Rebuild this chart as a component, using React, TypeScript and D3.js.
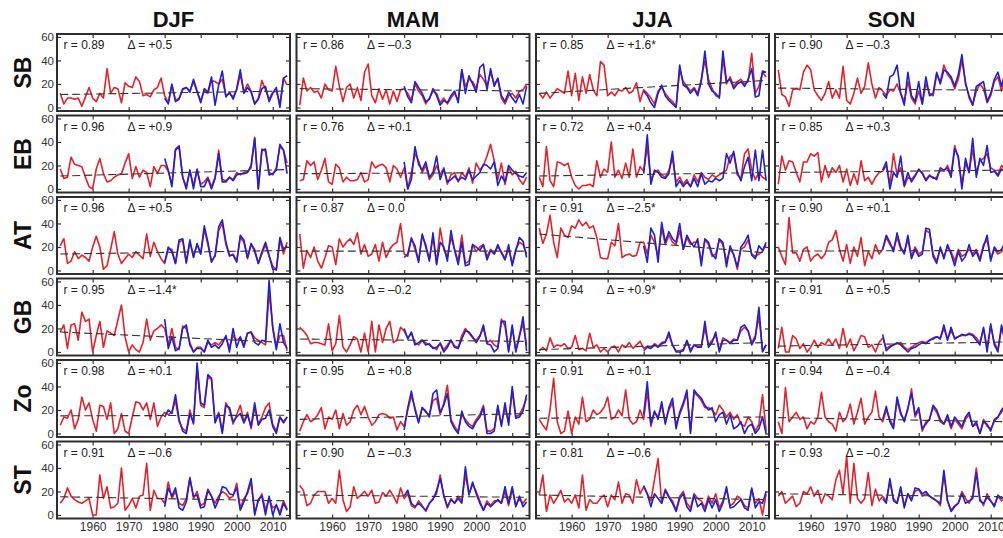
import { useEffect, useRef } from "react";
import * as d3 from "d3";

const seasons = ["DJF", "MAM", "JJA", "SON"];
const regions = ["SB", "EB", "AT", "GB", "Zo", "ST"];
const yearTicks = [1960, 1970, 1980, 1990, 2000, 2010];
const valueTicks = [0, 20, 40, 60];
const redYears = d3.range(1951, 2015);
const blueYears = d3.range(1980, 2015);

// panel annotations, rows = regions, columns = seasons
const rLabels = [
  ["0.89", "0.86", "0.85", "0.90"],
  ["0.96", "0.76", "0.72", "0.85"],
  ["0.96", "0.87", "0.91", "0.90"],
  ["0.95", "0.93", "0.94", "0.91"],
  ["0.98", "0.95", "0.91", "0.94"],
  ["0.91", "0.90", "0.81", "0.93"],
];
const deltaLabels = [
  ["+0.5", "\u20130.3", "+1.6*", "\u20130.3"],
  ["+0.9", "+0.1", "+0.4", "+0.3"],
  ["+0.5", "0.0", "\u20132.5*", "+0.1"],
  ["\u20131.4*", "\u20130.2", "+0.9*", "+0.5"],
  ["+0.1", "+0.8", "+0.1", "\u20130.4"],
  ["\u20130.6", "\u20130.3", "\u20130.6", "\u20130.2"],
];
// linear trend values at 1951 and 2014
const trendStart = [
  [11, 16, 12, 16.5],
  [11, 13, 11, 14],
  [14, 16.5, 31, 16.5],
  [17, 11, 2, 5],
  [15, 12, 13, 13.5],
  [15.5, 17, 17, 18],
];
const trendEnd = [
  [14, 14, 23, 14.5],
  [16.5, 14, 14, 16],
  [17, 16.5, 15, 17],
  [8, 9, 8, 8.5],
  [15.5, 17, 14, 10],
  [12, 15, 13, 15.5],
];

// red: 1951-2014, blue: 1980-2014
const sbDjfRed = [12, 3, 8, 8, 7, 8, 1, 9, 17, 8, 5, 12, 8, 33, 12, 17, 16, 4, 21, 18, 17, 26, 22, 10, 11, 9, 15, 17, 25, 10, 4, 19, 6, 8, 15, 17, 14, 22, 13, 6, 14, 12, 23, 22, 20, 24, 10, 12, 9, 15, 28, 13, 20, 14, 3, 8, 23, 15, 7, 13, 14, 3, 25, 19];
const sbDjfBlue = [8, 3, 20, 5, 7, 16, 17, 13, 24, 14, 4, 16, 13, 26, 2, 19, 31, 9, 13, 7, 16, 32, 12, 17, 13, 3, 7, 16, 18, 5, 12, 17, 0, 25, 27];
const sbMamRed = [2, 25, 14, 17, 13, 14, 8, 20, 15, 14, 35, 18, 5, 17, 20, 8, 17, 6, 30, 37, 10, 4, 16, 7, 15, 3, 14, 5, 15, 16, 12, 6, 20, 14, 10, 3, 8, 14, 12, 4, 8, 3, 8, 12, 6, 32, 18, 24, 22, 16, 28, 24, 18, 30, 20, 24, 8, 3, 10, 12, 8, 14, 15, 20];
const sbMamBlue = [18, 9, 4, 22, 17, 12, 5, 7, 16, 10, 2, 6, 4, 10, 14, 4, 32, 12, 27, 20, 13, 34, 37, 15, 33, 18, 25, 10, 5, 13, 8, 4, 11, 3, 18];
const sbJjaRed = [12, 8, 13, 8, 12, 16, 14, 12, 31, 10, 29, 6, 26, 12, 28, 15, 10, 39, 36, 10, 13, 10, 15, 14, 17, 12, 14, 21, 5, 15, 12, 8, 3, 14, 17, 12, 8, 5, 1, 32, 22, 18, 14, 17, 12, 24, 40, 24, 16, 10, 9, 42, 20, 26, 18, 22, 24, 20, 22, 46, 12, 18, 30, 26];
const sbJjaBlue = [14, 10, 4, 0, 12, 19, 10, 6, 3, 0, 36, 19, 17, 12, 16, 10, 22, 48, 20, 14, 12, 8, 48, 22, 24, 16, 20, 22, 18, 24, 33, 9, 10, 31, 30];
const sbSonRed = [32, 11, 9, 1, 15, 16, 15, 30, 36, 32, 15, 10, 6, 12, 22, 8, 15, 8, 35, 6, 3, 12, 25, 12, 18, 38, 20, 8, 17, 14, 10, 15, 14, 20, 12, 5, 22, 8, 3, 14, 3, 20, 12, 10, 28, 22, 36, 28, 24, 16, 24, 40, 22, 8, 2, 14, 20, 16, 4, 10, 22, 26, 14, 24];
const sbSonBlue = [12, 8, 26, 28, 36, 12, 2, 30, 10, 5, 22, 3, 26, 10, 12, 30, 20, 32, 30, 26, 18, 28, 45, 20, 10, 2, 18, 20, 22, 5, 12, 24, 30, 18, 30];

const ebDjfRed = [17, 9, 10, 27, 21, 20, 19, 10, 2, 0, 17, 26, 13, 6, 7, 10, 12, 13, 22, 30, 9, 19, 10, 16, 14, 2, 19, 13, 20, 20, 15, 4, 34, 37, 10, 2, 16, 3, 16, 4, 6, 10, 2, 10, 33, 8, 7, 10, 8, 14, 12, 14, 15, 18, 44, 0, 34, 32, 14, 12, 18, 36, 33, 22];
const ebDjfBlue = [26, 16, 2, 33, 36, 10, 0, 16, 0, 17, 2, 2, 9, 0, 9, 30, 6, 6, 10, 7, 12, 13, 13, 14, 20, 43, 0, 33, 34, 12, 13, 16, 38, 33, 13];
const ebMamRed = [7, 8, 24, 20, 23, 8, 16, 26, 6, 4, 21, 18, 6, 10, 7, 7, 8, 14, 6, 8, 23, 18, 20, 21, 18, 6, 20, 17, 10, 18, 0, 14, 30, 24, 14, 20, 8, 12, 20, 12, 18, 4, 12, 14, 6, 14, 10, 18, 5, 22, 16, 20, 28, 38, 24, 8, 22, 4, 18, 12, 15, 8, 4, 10];
const ebMamBlue = [23, 0, 8, 36, 21, 16, 23, 10, 14, 28, 8, 17, 6, 8, 11, 7, 10, 8, 16, 8, 11, 14, 21, 20, 17, 23, 3, 11, 6, 20, 16, 13, 11, 10, 14];
const ebJjaRed = [10, 2, 36, 7, 2, 23, 22, 20, 22, 10, 3, 0, 3, 3, 4, 2, 24, 10, 17, 14, 40, 10, 16, 9, 22, 10, 34, 10, 19, 15, 36, 8, 14, 16, 12, 10, 16, 26, 6, 10, 4, 8, 2, 12, 6, 14, 10, 8, 12, 10, 12, 14, 16, 28, 30, 12, 9, 30, 34, 16, 8, 14, 10, 8];
const ebJjaBlue = [13, 46, 4, 16, 14, 10, 9, 13, 32, 2, 7, 2, 6, 2, 9, 2, 13, 4, 7, 6, 9, 7, 9, 30, 22, 32, 14, 7, 19, 27, 7, 33, 7, 33, 7];
const ebSonRed = [4, 28, 16, 24, 23, 14, 6, 23, 23, 30, 28, 31, 6, 20, 10, 18, 14, 20, 6, 17, 3, 13, 4, 24, 7, 10, 4, 10, 14, 15, 20, 4, 30, 12, 18, 2, 10, 8, 12, 16, 14, 8, 12, 9, 10, 16, 15, 20, 12, 37, 26, 4, 22, 14, 34, 14, 24, 26, 30, 18, 16, 12, 20, 16];
const ebSonBlue = [16, 23, 0, 14, 10, 28, 3, 14, 6, 11, 17, 13, 7, 11, 10, 8, 18, 16, 18, 10, 34, 28, 0, 26, 14, 43, 10, 26, 20, 37, 14, 15, 11, 17, 14];

const atDjfRed = [21, 27, 6, 8, 16, 10, 13, 11, 8, 20, 29, 20, 1, 4, 18, 33, 14, 6, 10, 14, 11, 16, 13, 10, 31, 12, 24, 16, 10, 6, 18, 18, 6, 24, 26, 6, 24, 12, 22, 14, 35, 22, 8, 12, 34, 40, 22, 12, 14, 8, 28, 24, 10, 22, 18, 6, 14, 22, 12, 4, 0, 26, 14, 24];
const atDjfBlue = [7, 20, 16, 6, 26, 27, 7, 26, 11, 23, 14, 38, 24, 7, 13, 37, 43, 24, 13, 13, 7, 30, 26, 11, 23, 16, 6, 16, 24, 13, 1, 1, 28, 18, 21];
const atMamRed = [31, 2, 17, 11, 20, 8, 2, 11, 21, 20, 5, 27, 20, 24, 27, 22, 32, 14, 22, 12, 14, 22, 8, 24, 11, 18, 22, 24, 40, 14, 12, 28, 18, 8, 30, 22, 10, 28, 6, 36, 18, 12, 28, 18, 8, 30, 6, 8, 22, 16, 20, 22, 12, 18, 14, 20, 16, 10, 18, 6, 18, 24, 22, 14];
const atMamBlue = [11, 14, 27, 21, 7, 31, 20, 8, 32, 5, 24, 20, 8, 34, 17, 5, 24, 4, 5, 22, 20, 17, 22, 9, 17, 14, 22, 15, 9, 22, 4, 17, 28, 25, 11];
const atJjaRed = [36, 23, 31, 47, 24, 11, 36, 30, 28, 38, 36, 43, 38, 41, 36, 38, 28, 11, 10, 10, 24, 21, 40, 11, 13, 14, 12, 13, 24, 24, 14, 30, 24, 12, 36, 22, 30, 24, 22, 34, 18, 28, 22, 24, 24, 8, 26, 22, 12, 14, 26, 22, 8, 18, 14, 1, 18, 20, 26, 14, 12, 14, 16, 22];
const atJjaBlue = [21, 7, 36, 30, 7, 41, 24, 33, 27, 24, 40, 18, 30, 24, 20, 27, 4, 27, 24, 14, 10, 27, 24, 3, 21, 13, 3, 20, 24, 30, 13, 10, 21, 17, 24];
const atSonRed = [20, 12, 5, 45, 15, 15, 8, 18, 20, 8, 12, 14, 10, 14, 24, 26, 34, 18, 8, 22, 6, 20, 12, 28, 4, 16, 10, 22, 14, 18, 28, 22, 18, 28, 18, 16, 26, 12, 20, 14, 16, 34, 32, 14, 8, 18, 12, 20, 16, 8, 18, 12, 14, 18, 14, 18, 10, 22, 26, 10, 18, 14, 16, 20];
const atSonBlue = [18, 30, 24, 16, 32, 20, 14, 30, 10, 18, 12, 14, 36, 35, 12, 6, 20, 10, 22, 14, 4, 16, 8, 12, 22, 12, 16, 8, 20, 30, 8, 20, 16, 18, 24];

const gbDjfRed = [17, 23, 3, 23, 24, 10, 34, 26, 28, 0, 14, 26, 4, 18, 16, 14, 27, 40, 13, 0, 6, 2, 0, 8, 28, 10, 18, 20, 23, 20, 6, 20, 4, 2, 22, 20, 8, 0, 4, 4, 0, 8, 6, 8, 6, 10, 12, 4, 14, 10, 12, 6, 16, 17, 12, 10, 8, 6, 51, 22, 4, 14, 14, 1];
const gbDjfBlue = [28, 3, 13, 1, 3, 20, 23, 6, 0, 3, 3, 0, 10, 4, 6, 3, 7, 14, 0, 20, 4, 13, 4, 16, 17, 8, 6, 10, 9, 61, 20, 2, 24, 8, 3];
const gbMamRed = [21, 18, 14, 7, 8, 8, 7, 6, 24, 1, 7, 31, 4, 0, 6, 13, 11, 0, 16, 0, 26, 0, 23, 8, 20, 26, 8, 10, 21, 18, 12, 16, 8, 6, 10, 8, 6, 4, 2, 8, 2, 6, 10, 5, 4, 14, 20, 16, 12, 10, 14, 20, 8, 10, 6, 4, 28, 22, 1, 20, 2, 14, 24, 6];
const gbMamBlue = [20, 11, 17, 6, 8, 10, 6, 7, 3, 4, 7, 0, 4, 10, 4, 3, 11, 18, 17, 13, 8, 13, 23, 7, 6, 0, 3, 26, 26, 0, 23, 0, 13, 30, 1];
const gbJjaRed = [1, 4, 1, 12, 4, 6, 5, 7, 3, 4, 14, 2, 3, 1, 16, 4, 6, 0, 3, 0, 4, 5, 0, 6, 4, 8, 3, 6, 9, 3, 5, 4, 7, 5, 8, 9, 14, 6, 1, 1, 2, 9, 2, 6, 5, 5, 20, 6, 10, 14, 2, 12, 10, 8, 11, 10, 18, 21, 18, 8, 14, 30, 1, 6];
const gbJjaBlue = [1, 4, 3, 6, 4, 7, 8, 17, 6, 0, 0, 1, 10, 0, 6, 4, 4, 26, 4, 8, 17, 0, 10, 10, 7, 10, 10, 21, 23, 18, 6, 12, 38, 0, 6];
const gbSonRed = [3, 21, 0, 0, 14, 11, 3, 7, 0, 4, 10, 4, 8, 6, 11, 6, 11, 3, 20, 4, 11, 1, 7, 14, 13, 4, 6, 0, 8, 12, 3, 5, 6, 7, 8, 4, 2, 4, 6, 8, 9, 8, 10, 12, 13, 12, 20, 11, 18, 12, 13, 14, 14, 16, 15, 12, 8, 20, 4, 22, 8, 2, 20, 10];
const gbSonBlue = [15, 1, 4, 6, 8, 6, 3, 0, 3, 4, 6, 8, 7, 10, 11, 13, 11, 23, 10, 21, 11, 13, 15, 14, 15, 14, 10, 6, 21, 0, 24, 6, 0, 23, 10];

const zoDjfRed = [7, 14, 13, 20, 4, 12, 31, 20, 26, 12, 2, 24, 23, 12, 26, 0, 4, 17, 2, 0, 14, 27, 26, 20, 26, 12, 26, 6, 14, 18, 16, 18, 28, 10, 4, 2, 20, 8, 55, 24, 22, 48, 46, 10, 18, 2, 26, 20, 8, 16, 24, 10, 18, 4, 22, 8, 14, 22, 26, 8, 2, 14, 10, 14];
const zoDjfBlue = [14, 20, 17, 33, 12, 2, 0, 17, 9, 60, 26, 24, 50, 47, 9, 17, 0, 24, 22, 10, 14, 17, 9, 16, 6, 26, 7, 12, 13, 20, 6, 0, 14, 9, 14];
const zoMamRed = [2, 10, 16, 10, 12, 16, 22, 4, 14, 12, 20, 4, 17, 7, 10, 20, 24, 16, 23, 14, 7, 10, 16, 17, 16, 13, 14, 3, 10, 6, 20, 32, 22, 10, 22, 18, 16, 28, 30, 16, 26, 41, 12, 6, 2, 16, 12, 8, 6, 12, 16, 24, 2, 2, 4, 22, 8, 22, 10, 36, 14, 16, 22, 30];
const zoMamBlue = [3, 22, 36, 20, 9, 22, 19, 14, 34, 37, 18, 24, 34, 10, 4, 0, 19, 10, 6, 4, 10, 14, 22, 0, 0, 2, 24, 6, 26, 7, 40, 13, 14, 19, 33];
const zoJjaRed = [12, 7, 3, 20, 47, 10, 0, 2, 19, 0, 14, 8, 31, 10, 12, 20, 16, 18, 22, 31, 12, 14, 20, 15, 37, 12, 8, 10, 20, 12, 36, 6, 18, 14, 24, 10, 20, 26, 8, 16, 24, 34, 2, 35, 32, 28, 22, 22, 20, 16, 24, 20, 14, 18, 12, 16, 8, 6, 14, 10, 2, 8, 33, 2];
const zoJjaBlue = [16, 44, 8, 19, 12, 27, 8, 22, 30, 4, 18, 26, 37, 0, 37, 33, 30, 24, 20, 22, 10, 16, 18, 8, 16, 4, 6, 10, 0, 6, 8, 0, 4, 14, 0];
const zoSonRed = [10, 0, 39, 10, 14, 18, 12, 14, 4, 10, 8, 14, 35, 14, 10, 8, 2, 18, 10, 14, 25, 8, 18, 30, 8, 14, 18, 36, 14, 10, 20, 12, 6, 28, 16, 12, 20, 38, 14, 20, 2, 10, 12, 22, 18, 10, 8, 14, 4, 12, 8, 4, 12, 16, 6, 8, 0, 12, 6, 4, 10, 14, 18, 22];
const zoSonBlue = [12, 23, 10, 4, 31, 18, 10, 22, 34, 16, 22, 4, 8, 12, 24, 20, 12, 8, 16, 6, 14, 10, 6, 14, 18, 6, 10, 0, 10, 8, 2, 12, 14, 20, 24];

const stDjfRed = [10, 14, 23, 16, 13, 11, 10, 12, 14, 0, 0, 34, 14, 24, 6, 7, 10, 40, 4, 8, 14, 6, 16, 17, 44, 4, 21, 14, 14, 10, 28, 14, 20, 10, 8, 14, 32, 14, 20, 8, 10, 22, 16, 10, 16, 20, 18, 14, 16, 27, 6, 14, 18, 28, 2, 12, 18, 4, 14, 6, 8, 2, 12, 5];
const stDjfBlue = [7, 23, 16, 23, 6, 4, 11, 31, 16, 17, 6, 7, 21, 16, 6, 13, 24, 23, 18, 17, 23, 4, 11, 20, 31, 0, 13, 16, 0, 16, 0, 9, 0, 10, 4];
const stMamRed = [25, 21, 8, 10, 17, 20, 20, 20, 10, 14, 10, 38, 13, 3, 7, 24, 14, 17, 20, 16, 21, 10, 11, 19, 16, 21, 16, 10, 23, 14, 18, 8, 6, 12, 8, 3, 10, 14, 18, 34, 16, 6, 14, 10, 16, 12, 34, 18, 26, 20, 12, 4, 12, 8, 12, 12, 10, 20, 8, 22, 8, 14, 10, 14];
const stMamBlue = [16, 21, 10, 7, 10, 7, 4, 10, 13, 21, 31, 17, 7, 13, 10, 14, 10, 41, 17, 28, 18, 10, 4, 10, 7, 10, 13, 10, 24, 10, 24, 7, 16, 7, 11];
const stJjaRed = [17, 34, 3, 17, 10, 15, 21, 11, 14, 10, 17, 6, 34, 4, 13, 10, 10, 14, 17, 7, 17, 13, 28, 10, 18, 17, 10, 30, 18, 24, 18, 12, 30, 48, 10, 22, 16, 12, 4, 16, 20, 10, 6, 18, 14, 12, 6, 16, 10, 18, 6, 12, 22, 8, 10, 16, 14, 8, 6, 22, 10, 14, 0, 18];
const stJjaBlue = [25, 18, 7, 18, 14, 10, 21, 15, 10, 3, 14, 18, 7, 3, 17, 7, 10, 3, 13, 6, 13, 3, 10, 24, 6, 7, 10, 13, 6, 4, 23, 6, 11, 10, 20];
const stSonRed = [16, 20, 10, 13, 16, 7, 10, 20, 18, 24, 16, 21, 10, 18, 16, 13, 30, 38, 18, 50, 10, 44, 14, 10, 14, 36, 8, 22, 12, 16, 12, 28, 14, 10, 22, 8, 18, 14, 20, 22, 16, 18, 16, 14, 12, 8, 34, 12, 4, 8, 10, 20, 14, 10, 16, 40, 14, 8, 18, 12, 8, 16, 12, 14];
const stSonBlue = [14, 10, 31, 12, 10, 24, 6, 18, 12, 23, 22, 18, 20, 16, 14, 12, 10, 38, 12, 3, 7, 10, 18, 10, 12, 14, 36, 12, 10, 15, 12, 7, 17, 14, 16];

const redSeries = [
  [sbDjfRed, sbMamRed, sbJjaRed, sbSonRed],
  [ebDjfRed, ebMamRed, ebJjaRed, ebSonRed],
  [atDjfRed, atMamRed, atJjaRed, atSonRed],
  [gbDjfRed, gbMamRed, gbJjaRed, gbSonRed],
  [zoDjfRed, zoMamRed, zoJjaRed, zoSonRed],
  [stDjfRed, stMamRed, stJjaRed, stSonRed],
];
const blueSeries = [
  [sbDjfBlue, sbMamBlue, sbJjaBlue, sbSonBlue],
  [ebDjfBlue, ebMamBlue, ebJjaBlue, ebSonBlue],
  [atDjfBlue, atMamBlue, atJjaBlue, atSonBlue],
  [gbDjfBlue, gbMamBlue, gbJjaBlue, gbSonBlue],
  [zoDjfBlue, zoMamBlue, zoJjaBlue, zoSonBlue],
  [stDjfBlue, stMamBlue, stJjaBlue, stSonBlue],
];

export default function App() {
  const ref = useRef<SVGSVGElement>(null);

  useEffect(() => {
    const svg = d3.select(ref.current);
    svg.selectAll("*").remove();
    const font = "'Liberation Sans', Arial, Helvetica, sans-serif";

    const panelW = 233;
    const panelH = 77;
    const colLeft = [57, 296.5, 536, 775];
    const rowTop = [34, 115.5, 197, 278.5, 360, 441.5];

    const x = d3.scaleLinear().domain([1950.1, 2014.8]).range([0, panelW]);
    const y = d3.scaleLinear().domain([-3, 62.5]).range([panelH, 0]);

    // column titles
    seasons.forEach((s, c) => {
      svg.append("text")
        .text(s)
        .attr("x", colLeft[c] + panelW / 2)
        .attr("y", 27)
        .attr("text-anchor", "middle")
        .attr("font-family", font)
        .attr("font-weight", "bold")
        .attr("font-size", 22)
        .attr("fill", "#111");
    });

    // row labels
    regions.forEach((name, r) => {
      svg.append("text")
        .text(name)
        .attr("transform", `translate(31, ${rowTop[r] + panelH / 2}) rotate(-90)`)
        .attr("text-anchor", "middle")
        .attr("font-family", font)
        .attr("font-weight", "bold")
        .attr("font-size", 23)
        .attr("fill", "#111");
    });

    const line = d3.line<[number, number]>()
      .x(d => x(d[0]))
      .y(d => y(d[1]));

    regions.forEach((_, r) => {
      seasons.forEach((_, c) => {
        const g = svg.append("g")
          .attr("transform", `translate(${colLeft[c]}, ${rowTop[r]})`);

        // ticks pointing inward on all four sides
        const axes = [
          { axis: d3.axisTop(x).tickValues(yearTicks).tickSize(-4).tickFormat(() => ""), t: "translate(0,0)" },
          {
            axis: d3.axisBottom(x).tickValues(yearTicks).tickSize(-4).tickPadding(4)
              .tickFormat(r === regions.length - 1 ? d3.format("d") : () => ""),
            t: `translate(0,${panelH})`,
          },
          {
            axis: d3.axisLeft(y).tickValues(valueTicks).tickSize(-4).tickPadding(3)
              .tickFormat(c === 0 ? d3.format("d") : () => ""),
            t: "translate(0,0)",
          },
          { axis: d3.axisRight(y).tickValues(valueTicks).tickSize(-4).tickFormat(() => ""), t: `translate(${panelW},0)` },
        ];
        axes.forEach((a, k) => {
          const ag = g.append("g").attr("transform", a.t).call(a.axis as any);
          ag.select(".domain").remove();
          ag.attr("color", "#333");
          ag.selectAll("line").attr("stroke-width", 1.2);
          ag.selectAll("text")
            .attr("font-family", font)
            .attr("font-size", k === 2 ? 11.5 : 12)
            .attr("fill", "#333");
        });

        const red = redSeries[r][c];
        const blue = blueSeries[r][c];
        g.append("path")
          .attr("d", line(redYears.map((yr, i) => [yr, red[i]] as [number, number])))
          .attr("fill", "none")
          .attr("stroke", "#e3222b")
          .attr("stroke-width", 1.6)
          .attr("stroke-linejoin", "round");
        g.append("path")
          .attr("d", line(blueYears.map((yr, i) => [yr, blue[i]] as [number, number])))
          .attr("fill", "none")
          .attr("stroke", "#1c20d6")
          .attr("stroke-width", 1.6)
          .attr("stroke-linejoin", "round");

        // trend line
        g.append("path")
          .attr("d", line([[1951, trendStart[r][c]], [2014, trendEnd[r][c]]]))
          .attr("fill", "none")
          .attr("stroke", "#333")
          .attr("stroke-width", 1.1)
          .attr("stroke-dasharray", "8,4");

        g.append("text")
          .text(`r = ${rLabels[r][c]}`)
          .attr("x", 6.5)
          .attr("y", 15)
          .attr("font-family", font)
          .attr("font-size", 12)
          .attr("fill", "#222");
        g.append("text")
          .text(`\u0394 = ${deltaLabels[r][c]}`)
          .attr("x", 70.5)
          .attr("y", 15)
          .attr("font-family", font)
          .attr("font-size", 12)
          .attr("fill", "#222");

        g.append("rect")
          .attr("width", panelW)
          .attr("height", panelH)
          .attr("fill", "none")
          .attr("stroke", "#2e2e2e")
          .attr("stroke-width", 2);
      });
    });
  }, []);

  return (
    <div style={{ position: "absolute", left: 0, top: 0 }}>
      <svg ref={ref} width={1003} height={538} style={{ display: "block", background: "#fff" }}></svg>
    </div>
  );
}
